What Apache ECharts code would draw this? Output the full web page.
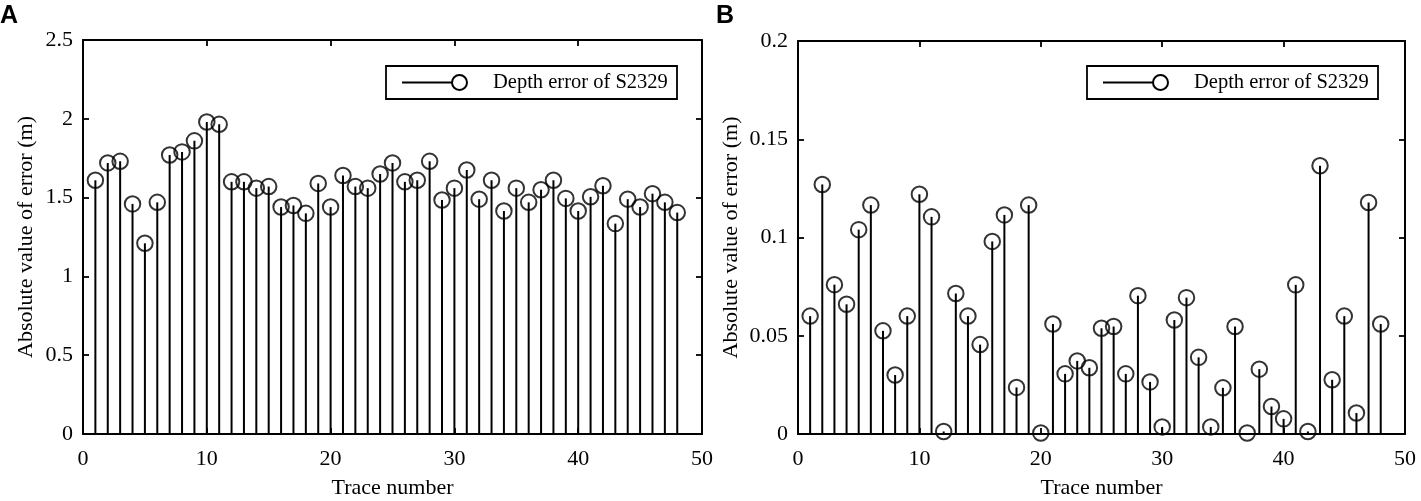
<!DOCTYPE html>
<html>
<head>
<meta charset="utf-8">
<script src="https://cdn.jsdelivr.net/npm/echarts@6/dist/echarts.min.js"></script>
<style>
html, body { margin: 0; padding: 0; background: #fff; }
#chart { width: 1421px; height: 501px; }
</style>
</head>
<body>
<div id="chart"></div>
<script>
var dom = document.getElementById("chart");
var myChart = echarts.init(dom);

// trace numbers 1..48
var traces = [1,2,3,4,5,6,7,8,9,10,11,12,13,14,15,16,17,18,19,20,21,22,23,24,
	25,26,27,28,29,30,31,32,33,34,35,36,37,38,39,40,41,42,43,44,45,46,47,48];

// panel A, depth error (m)
var errorA = [1.61,1.72,1.73,1.46,1.21,1.47,1.77,1.79,1.86,1.98,1.965,1.60,
	1.60,1.56,1.57,1.44,1.45,1.40,1.59,1.44,1.64,1.57,1.56,1.65,
	1.72,1.60,1.61,1.73,1.485,1.56,1.675,1.49,1.61,1.415,1.56,1.47,
	1.55,1.61,1.495,1.415,1.505,1.575,1.335,1.49,1.44,1.525,1.47,1.405];

// panel B, depth error (m)
var errorB = [0.060,0.127,0.076,0.066,0.104,0.1165,0.0525,0.030,0.060,0.122,0.1105,0.0013,
	0.0715,0.060,0.0455,0.098,0.1115,0.0237,0.1165,0.0005,0.056,0.0306,0.0372,0.0337,
	0.0538,0.0547,0.0306,0.0704,0.0265,0.0036,0.058,0.0694,0.039,0.0036,0.0235,0.0547,
	0.0005,0.033,0.014,0.0077,0.0759,0.0013,0.1365,0.0276,0.060,0.0107,0.1178,0.056];

var yTicksA = { min: 0, max: 2.5, interval: 0.5 };
var yTicksB = { min: 0, max: 0.2, interval: 0.05 };

var serif = "Liberation Serif";
var ink = '#000';
var legendText = "Depth error of S2329";

function pairs(ys) {
	return traces.map(function (x, i) { return [x, ys[i]]; });
}

function xAxes(gi) {
	return [
		{
			gridIndex: gi, type: 'value', min: 0, max: 50, interval: 10, position: 'bottom',
			name: 'Trace number', nameLocation: 'middle', nameGap: 43,
			nameTextStyle: { fontFamily: serif, fontSize: 22, color: ink },
			axisLine: { onZero: false, lineStyle: { color: ink, width: 2 } },
			axisTick: { inside: true, length: 6, lineStyle: { color: ink, width: 1.8 } },
			axisLabel: { fontFamily: serif, fontSize: 22, color: ink, margin: 14 },
			splitLine: { show: false }
		},
		{
			gridIndex: gi, type: 'value', min: 0, max: 50, interval: 10, position: 'top',
			axisLine: { onZero: false, lineStyle: { color: ink, width: 2 } },
			axisTick: { inside: true, length: 6, lineStyle: { color: ink, width: 1.8 } },
			axisLabel: { show: false },
			splitLine: { show: false }
		}
	];
}

function yAxes(gi, t, gap) {
	return [
		{
			gridIndex: gi, type: 'value', min: t.min, max: t.max, interval: t.interval, position: 'left',
			name: 'Absolute value of error (m)', nameLocation: 'middle', nameGap: gap,
			nameTextStyle: { fontFamily: serif, fontSize: 22, color: ink },
			axisLine: { show: true, onZero: false, lineStyle: { color: ink, width: 2 } },
			axisTick: { show: true, inside: true, length: 6, lineStyle: { color: ink, width: 1.8 } },
			axisLabel: { fontFamily: serif, fontSize: 22, color: ink, margin: 10 },
			splitLine: { show: false }
		},
		{
			gridIndex: gi, type: 'value', min: t.min, max: t.max, interval: t.interval, position: 'right',
			axisLine: { show: true, onZero: false, lineStyle: { color: ink, width: 2 } },
			axisTick: { show: true, inside: true, length: 6, lineStyle: { color: ink, width: 1.8 } },
			axisLabel: { show: false },
			splitLine: { show: false }
		}
	];
}

function stemSeries(xi, yi, ys) {
	return [
		{
			type: 'bar', xAxisIndex: xi, yAxisIndex: yi, data: pairs(ys),
			barWidth: 2, itemStyle: { color: ink }, silent: true, z: 2
		},
		{
			type: 'scatter', xAxisIndex: xi, yAxisIndex: yi, data: pairs(ys),
			symbol: 'circle', symbolSize: 15.5,
			itemStyle: { color: 'rgba(0,0,0,0)', borderColor: ink, borderWidth: 2 },
			silent: true, z: 3
		}
	];
}

function legendBox(x, y) {
	return [
		{ type: 'rect', shape: { x: x, y: y, width: 291, height: 33 },
			style: { fill: '#fff', stroke: ink, lineWidth: 1.8 }, z: 10 },
		{ type: 'line', shape: { x1: x + 16, y1: y + 16.5, x2: x + 66, y2: y + 16.5 },
			style: { stroke: ink, lineWidth: 2 }, z: 11 },
		{ type: 'circle', shape: { cx: x + 73.5, cy: y + 16.5, r: 7.5 },
			style: { fill: 'rgba(0,0,0,0)', stroke: ink, lineWidth: 2 }, z: 11 },
		{ type: 'text', x: x + 107, y: y + 17,
			style: { text: legendText, font: '20.5px "Liberation Serif"', fill: ink, textVerticalAlign: 'middle' }, z: 11 }
	];
}

var option = {
	backgroundColor: '#fff',
	animation: false,
	grid: [
		{ left: 83, right: 719, top: 40, bottom: 67, outerBoundsMode: 'none', containLabel: false },
		{ left: 798, right: 16, top: 41, bottom: 67, outerBoundsMode: 'none', containLabel: false }
	],
	xAxis: xAxes(0).concat(xAxes(1)),
	yAxis: yAxes(0, yTicksA, 46).concat(yAxes(1, yTicksB, 56)),
	series: stemSeries(0, 0, errorA).concat(stemSeries(2, 2, errorB)),
	graphic: [
		{ type: 'text', x: 0, y: 4, style: { text: 'A', font: 'bold 25px "Liberation Sans"', fill: ink } },
		{ type: 'text', x: 716, y: 4, style: { text: 'B', font: 'bold 25px "Liberation Sans"', fill: ink } }
	].concat(legendBox(386, 66)).concat(legendBox(1087, 66))
};

myChart.setOption(option, true);
window.onresize = function () {
	myChart.resize();
};
</script>
</body>
</html>
